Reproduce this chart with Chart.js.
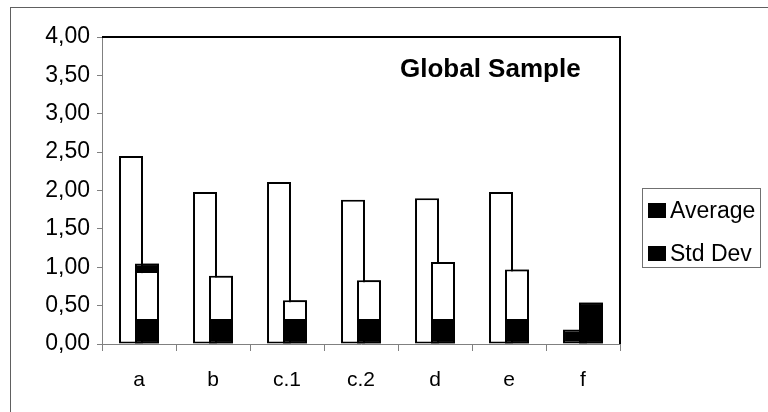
<!DOCTYPE html>
<html>
<head>
<meta charset="utf-8">
<script src="https://cdn.jsdelivr.net/npm/chart.js@4.4.1/dist/chart.umd.min.js"></script>
<style>
  html, body { margin: 0; padding: 0; background: #fff; overflow: hidden; }
  #frame { position: absolute; left: 10px; top: 7px; width: 800px; height: 500px; border: 1px solid #606060; }
  #chart { position: absolute; left: 0; top: 0; }
</style>
</head>
<body>
<div id="frame"></div>
<canvas id="chart" width="768" height="412"></canvas>
<script>
const categories = ['a', 'b', 'c.1', 'c.2', 'd', 'e', 'f'];
const averages = [2.45, 1.98, 2.11, 1.88, 1.90, 1.98, 0.19];
const stdDevs = [1.05, 0.89, 0.57, 0.83, 1.07, 0.97, 0.54];
// dark part at the foot of each Std Dev bar, and the dark cap on "a"
const darkBase = [0.30, 0.30, 0.30, 0.30, 0.30, 0.30, 0.54];
const darkTop = [0.10, 0, 0, 0, 0, 0, 0];
const seriesNames = ['Average', 'Std Dev'];
const yTickValues = [0, 0.5, 1, 1.5, 2, 2.5, 3, 3.5, 4];
const chartTitle = 'Global Sample';

const FONT = '"Liberation Sans", Arial, sans-serif';
Chart.defaults.font.family = FONT;
Chart.defaults.color = '#000';

// white middle of the Std Dev bar = total minus the dark parts
const sdMiddle = stdDevs.map((v, i) => +(v - darkBase[i] - darkTop[i]).toFixed(2));
const avgFill = categories.map(c => c === 'f' ? '#000' : '#fff');

const barStyle = {
    borderColor: '#000',
    borderWidth: 2,
    borderSkipped: false,
    categoryPercentage: 0.432,
    barPercentage: 1.5
};

// Excel drew the Std Dev bars over the Average ones, redraw them on top
const sdOnTop = {
    id: 'sdOnTop',
    afterDatasetsDraw(chart) {
        for (let i = 1; i <= 3; i++) {
            const meta = chart.getDatasetMeta(i);
            if (meta && meta.visible) meta.controller.draw();
        }
    }
};

const decorations = {
    id: 'decorations',
    afterDraw(chart) {
        const ctx = chart.ctx;
        const a = chart.chartArea;
        ctx.save();
        // top and right frame of the plot
        ctx.strokeStyle = '#000';
        ctx.lineWidth = 2;
        ctx.beginPath();
        ctx.moveTo(a.left, a.top);
        ctx.lineTo(a.right, a.top);
        ctx.lineTo(a.right, a.bottom);
        ctx.stroke();

        // title inside the plot
        ctx.fillStyle = '#000';
        ctx.font = 'bold 26px ' + FONT;
        ctx.textAlign = 'left';
        ctx.textBaseline = 'alphabetic';
        ctx.fillText(chartTitle, 400, 77);

        // legend box
        ctx.strokeStyle = '#707070';
        ctx.lineWidth = 1;
        ctx.strokeRect(642.5, 188.5, 118, 79);
        ctx.font = '23px ' + FONT;
        const baselines = [218, 261];
        seriesNames.forEach((name, i) => {
            ctx.fillStyle = '#000';
            ctx.fillRect(648, baselines[i] - 15, 18, 15);
            ctx.fillText(name, 670, baselines[i]);
        });
        ctx.restore();
    }
};

new Chart(document.getElementById('chart'), {
    type: 'bar',
    data: {
        labels: categories,
        datasets: [
            Object.assign({ label: seriesNames[0], data: averages, backgroundColor: avgFill, stack: 'avg' }, barStyle),
            Object.assign({ label: seriesNames[1], data: darkBase, backgroundColor: '#000', stack: 'sd' }, barStyle),
            Object.assign({ label: seriesNames[1], data: sdMiddle, backgroundColor: '#fff', stack: 'sd' }, barStyle),
            Object.assign({ label: seriesNames[1], data: darkTop, backgroundColor: '#000', stack: 'sd' }, barStyle)
        ]
    },
    options: {
        responsive: false,
        animation: false,
        events: [],
        layout: { padding: { left: 0, top: 37, right: 148, bottom: 0 } },
        plugins: {
            legend: { display: false },
            tooltip: { enabled: false },
            title: { display: false }
        },
        scales: {
            x: {
                stacked: true,
                grid: { drawOnChartArea: false, offset: true, tickLength: 7, color: '#808080' },
                border: { color: '#808080', width: 1 },
                ticks: { font: { size: 21 }, padding: 17, color: '#000' },
                afterFit: s => { s.height = 68; }
            },
            y: {
                stacked: true,
                min: 0,
                max: 4,
                afterBuildTicks: s => { s.ticks = yTickValues.map(v => ({ value: v })); },
                grid: { drawOnChartArea: false, tickLength: 5, color: '#808080' },
                border: { color: '#808080', width: 1 },
                ticks: {
                    font: { size: 23 },
                    padding: 7,
                    color: '#000',
                    callback: v => Number(v).toFixed(2).replace('.', ',')
                },
                afterFit: s => { s.width = 102; }
            }
        }
    },
    plugins: [sdOnTop, decorations]
});
</script>
</body>
</html>
